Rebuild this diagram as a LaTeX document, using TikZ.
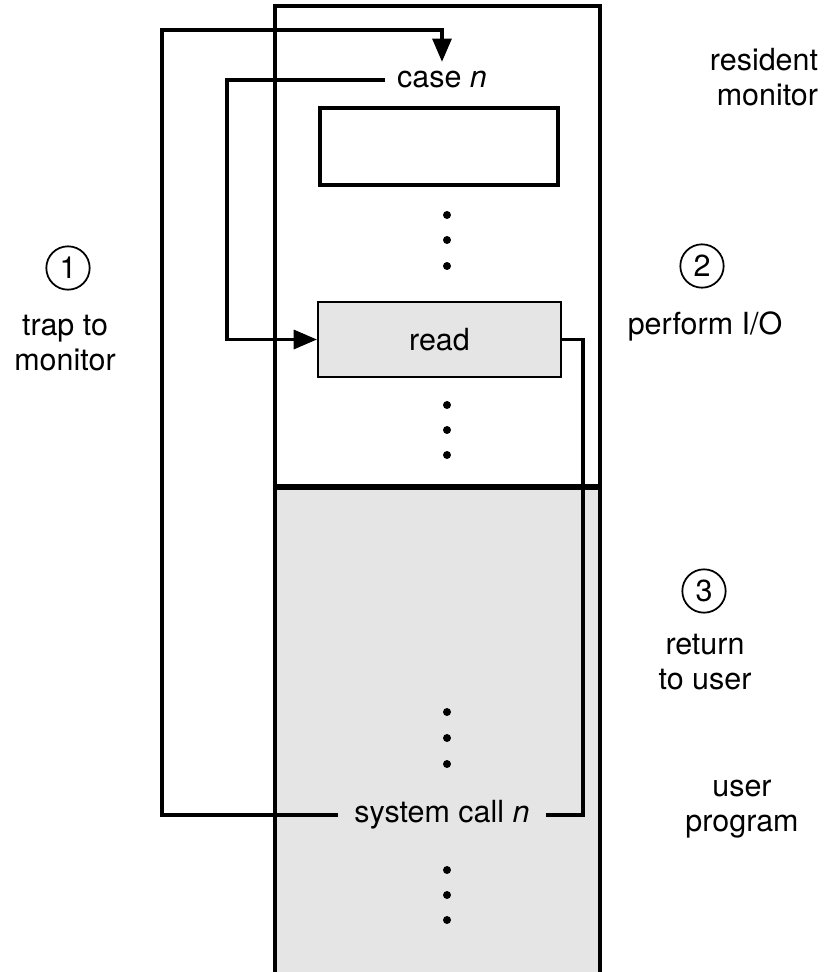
\documentclass[tikz,border=0pt]{standalone}
\usepackage{fontspec}
\setmainfont{TeX Gyre Heros}
\usetikzlibrary{arrows.meta}

\begin{document}
\begin{tikzpicture}[x=0.03cm,y=-0.03cm,
    every node/.style={font=\fontsize{26}{30}\selectfont},
    wire/.style={line width=3.4pt},
    tip/.style={-{Triangle[length=20pt,width=16pt]}},
    stepnum/.style={circle,draw,line width=1.5pt,minimum size=37pt,inner sep=0pt}]
    \useasboundingbox (0,0) rectangle (834,972);

    % memory
    \fill[gray!20] (275,487) rectangle (600,990);
    \draw[wire] (275,990) -- (275,6) -- (600,6) -- (600,990);
    \draw[line width=4.5pt] (275,487) -- (600,487);
    \draw[wire] (320,108) rectangle (558,185);
    \node[draw,fill=gray!20,line width=1.5pt,minimum width=7.29cm,minimum height=2.25cm] (readbox) at (439.5,339.5) {read};
    \node[inner xsep=10pt,inner ysep=8pt] (casen) at (442,80) {case \textit{n}};
    \node[inner xsep=14pt] (syscall) at (442,815) {system call \textit{n}};

    \foreach \y in {215,240,266,405,430,455,712,738,764,870,895,920}
      \fill (447,\y) circle[radius=3.4pt];

    % labels
    \node[align=right] (resident) at (764,77) {resident\\monitor};
    \node[stepnum] (one) at (68,268) {1};
    \node[align=center] (trap) at (65,343) {trap to\\monitor};
    \node[stepnum] (two) at (702,266) {2};
    \node (perform) at (705,326) {perform I/O};
    \node[stepnum] (three) at (704,591) {3};
    \node[align=center] (ret) at (705,662) {return\\to user};
    \node[align=center] (userprog) at (742,809) {user\\program};

    % control flow
    \coordinate (trapbend) at (162,30);
    \coordinate (casebend) at (227,78);
    \coordinate (retbend) at (583,340);
    \draw[wire,tip] (syscall.west) -| (trapbend) -| (casen.north);
    \draw[wire,tip] (casen.west) -| (casebend) |- (readbox.west);
    \draw[wire] (readbox.east) -| (retbend) |- (syscall.east);
\end{tikzpicture}
\end{document}
